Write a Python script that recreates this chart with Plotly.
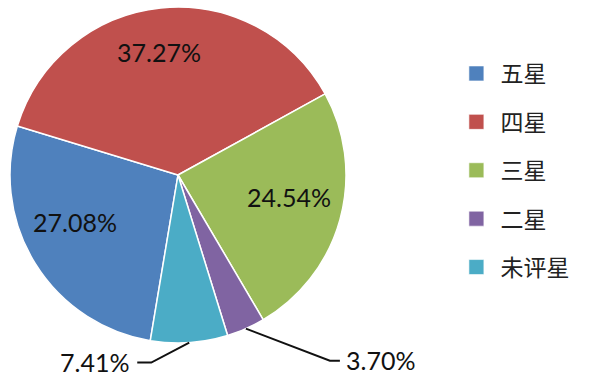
import math
import plotly.graph_objects as go

categories = ["五星", "四星", "三星", "二星", "未评星"]
shares = [27.08, 37.27, 24.54, 3.70, 7.41]
colors = ["#4F81BD", "#C0504D", "#9BBB59", "#8064A2", "#4BACC6"]
# label styling: inside labels (radius fraction, pixel nudge) / outside labels (leader offsets)
inside_labels = {"五星": (0.70, -3, -15), "四星": (0.72, -7, -3), "三星": (0.70, -2, -9)}
outside_labels = {"二星": (84, 32, 10, "left"), "未评星": (-38, 20, -14, "right")}

W, H = 600, 384
cx, cy, R = 178, 175, 168
rotation = 189.5
dom_x = [(cx - R) / W, (cx + R) / W]
dom_y = [(H - cy - R) / H, (H - cy + R) / H]
label_font = dict(family="Lato", size=25, color="#111")

fig = go.Figure()
fig.add_trace(go.Pie(
    labels=categories, values=shares, sort=False, direction="clockwise",
    rotation=rotation, marker=dict(colors=colors, line=dict(color="white", width=1.5)),
    textinfo="none", domain=dict(x=dom_x, y=dom_y), showlegend=False,
    hoverinfo="label+value",
))

# legend entries
for c, col in zip(categories, colors):
    fig.add_trace(go.Scatter(
        x=[None], y=[None], mode="markers", name=c, legendgroup=c,
        marker=dict(symbol="square", size=15, color=col,
                    line=dict(color="rgba(255,255,255,0.6)", width=1)),
    ))

# labels placed from slice angles
total = sum(shares)
start = rotation
shapes, annots = [], []
for c, v in zip(categories, shares):
    span = v / total * 360
    mid = start + span / 2
    start += span
    a = math.radians(mid % 360)
    if c in inside_labels:
        rf, nx, ny = inside_labels[c]
        x = cx + rf * R * math.sin(a) + nx
        y = cy - rf * R * math.cos(a) + ny
        annots.append(dict(x=x / W, y=1 - y / H, xref="paper", yref="paper",
                           text=f"{v:.2f}%", showarrow=False, xanchor="center",
                           yanchor="middle", font=label_font))
    if c in outside_labels:
        x0 = cx + R * math.sin(a)
        y0 = cy - R * math.cos(a)
        dx, dy, dx2, anchor = outside_labels[c]
        x1, y1 = x0 + dx, y0 + dy
        x2 = x1 + dx2
        pts = [(x0, y0), (x1, y1), (x2, y1)]
        path = "M " + " L ".join(f"{px / W:.5f},{1 - py / H:.5f}" for px, py in pts)
        shapes.append(dict(type="path", xref="paper", yref="paper", path=path,
                           line=dict(color="#111", width=2)))
        annots.append(dict(x=(x2 + (4 if anchor == "left" else -6)) / W, y=1 - (y1 - 1) / H,
                           xref="paper", yref="paper", text=f"{v:.2f}%", showarrow=False,
                           xanchor=anchor, yanchor="middle", font=label_font))

fig.update_layout(
    width=W, height=H, margin=dict(l=0, r=0, t=0, b=0),
    paper_bgcolor="white", plot_bgcolor="white",
    xaxis=dict(visible=False), yaxis=dict(visible=False),
    shapes=shapes, annotations=annots,
    legend=dict(x=0.754, y=1 - 52 / H, xanchor="left", yanchor="top",
                font=dict(family="Noto Sans CJK SC", size=23, color="#222"),
                tracegroupgap=15.5, itemwidth=38),
)
fig.write_html("out.html", config={"displayModeBar": False},
               post_script="document.body.style.margin='0';")
